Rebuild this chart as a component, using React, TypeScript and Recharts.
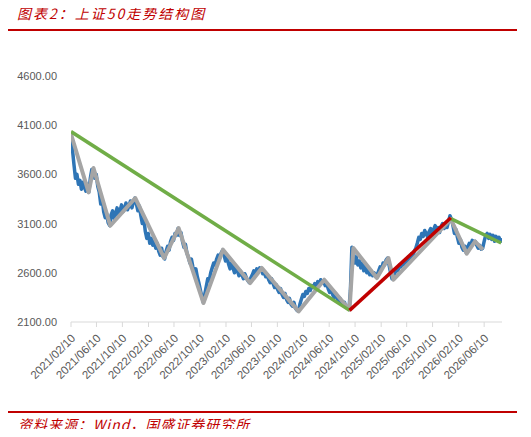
import { Line, LineChart, XAxis, YAxis } from 'recharts'

const TICK_DATES = [
  '2021/02/10', '2021/06/10', '2021/10/10', '2022/02/10', '2022/06/10', '2022/10/10',
  '2023/02/10', '2023/06/10', '2023/10/10', '2024/02/10', '2024/06/10', '2024/10/10',
  '2025/02/10', '2025/06/10', '2025/10/10', '2026/02/10', '2026/06/10',
]
const Y_TICKS = [2100, 2600, 3100, 3600, 4100, 4600]
const X_END = '2026/09/02'

// index level
const BLUE_START = '2021/02/10'
const BLUE_STEP_DAYS = 7
const BLUE_VALUES = [
  3990, 3850, 3700, 3560, 3600, 3500, 3540, 3450, 3520, 3470,
  3430, 3500, 3420, 3560, 3650, 3620, 3560, 3600, 3480, 3420,
  3300, 3350, 3220, 3160, 3200, 3110, 3080, 3190, 3230, 3150,
  3200, 3260, 3180, 3230, 3290, 3220, 3250, 3310, 3240, 3280,
  3330, 3260, 3320, 3360, 3300, 3230, 3280, 3180, 3100, 3150,
  3020, 2950, 3000, 2900, 2950, 2880, 2920, 2850, 2900, 2820,
  2780, 2850, 2760, 2740, 2820, 2870, 2830, 2920, 2960, 2930,
  3000, 2980, 3050, 2980, 3010, 2920, 2860, 2890, 2800, 2760,
  2700, 2740, 2660, 2600, 2640, 2560, 2500, 2430, 2360, 2300,
  2380, 2460, 2540, 2520, 2600, 2650, 2700, 2680, 2740, 2780,
  2750, 2800, 2830, 2780, 2720, 2760, 2690, 2640, 2700, 2650,
  2600, 2660, 2620, 2570, 2620, 2580, 2540, 2590, 2550, 2520,
  2500, 2550, 2580, 2620, 2590, 2640, 2610, 2650, 2640, 2590,
  2610, 2560, 2580, 2530, 2500, 2540, 2490, 2450, 2480, 2430,
  2400, 2440, 2380, 2350, 2390, 2330, 2300, 2340, 2280, 2260,
  2300, 2240, 2220, 2210, 2280, 2330, 2380, 2360, 2410, 2390,
  2440, 2420, 2470, 2450, 2490, 2460, 2510, 2480, 2530, 2500,
  2520, 2470, 2490, 2440, 2400, 2430, 2380, 2350, 2390, 2340,
  2310, 2340, 2290, 2270, 2300, 2250, 2240, 2230, 2420, 2860,
  2820, 2700, 2760, 2680, 2720, 2650, 2700, 2620, 2680, 2600,
  2640, 2580, 2620, 2570, 2600, 2560, 2580, 2620, 2660, 2640,
  2700, 2680, 2730, 2750, 2680, 2600, 2540, 2560, 2600, 2640,
  2620, 2680, 2660, 2700, 2680, 2730, 2700, 2760, 2740, 2790,
  2770, 2820, 2850, 2900, 2960, 2940, 3000, 2970, 3030, 3000,
  2960, 3020, 3050, 3000, 3040, 3080, 3030, 3060, 3010, 3070,
  3100, 3050, 3090, 3060, 3120, 3180, 3140, 3080, 3000, 3040,
  2960, 2900, 2940, 2860, 2830, 2870, 2800, 2860, 2900, 2880,
  2930, 2900, 2920, 2880, 2850, 2880, 2840, 2850, 2920, 2980,
  3000, 2950, 2990, 2940, 2980, 2920, 2970, 2930, 2960, 2920,
  2950,
]

// zigzag structure (gray)
const GRAY_DATES = [
  '2021/02/10', '2021/05/04', '2021/05/27', '2021/08/14', '2021/12/10', '2022/04/25',
  '2022/07/02', '2022/10/27', '2023/01/27', '2023/06/04', '2023/07/29', '2024/01/18',
  '2024/05/18', '2024/09/14', '2024/10/02', '2025/01/21', '2025/03/16', '2025/04/09',
  '2026/01/04', '2026/03/20', '2026/04/28', '2026/06/04',
]
const GRAY_VALUES = [
  4010, 3417, 3665, 3078, 3360, 2750,
  3055, 2293, 2835, 2496, 2649, 2208,
  2530, 2225, 2852, 2547, 2750, 2530,
  3146, 2794, 2919, 2835,
]

// trend lines
const GREEN_A_DATES = ['2021/02/10', '2024/09/14']
const GREEN_A_VALUES = [4035, 2218]
const RED_DATES = ['2024/09/14', '2026/01/04']
const RED_VALUES = [2218, 3160]
const GREEN_B_DATES = ['2026/01/04', '2026/08/29']
const GREEN_B_VALUES = [3150, 2903]

const RED = '#c00000'
const TEXT = '#595959'
const FONT = '"Liberation Sans", Arial, sans-serif'
const CJK = '"Noto Sans CJK SC", sans-serif'

const BASE = Date.UTC(2021, 1, 10)
function dayOf(s: string): number {
  const [y, m, d] = s.split('/').map(Number)
  return Math.round((Date.UTC(y, m - 1, d) - BASE) / 86400000)
}

const toPoints = (dates: string[], values: number[]) =>
  dates.map((d, i) => ({ t: dayOf(d), v: values[i] }))

const blueData = BLUE_VALUES.map((v, i) => ({ t: dayOf(BLUE_START) + i * BLUE_STEP_DAYS, v }))
const grayData = toPoints(GRAY_DATES, GRAY_VALUES)
const greenAData = toPoints(GREEN_A_DATES, GREEN_A_VALUES)
const redData = toPoints(RED_DATES, RED_VALUES)
const greenBData = toPoints(GREEN_B_DATES, GREEN_B_VALUES)

const tickDays = TICK_DATES.map(dayOf)

function XTick(props: any) {
  const { x, y, payload } = props
  const idx = tickDays.indexOf(payload.value)
  const label = idx >= 0 ? TICK_DATES[idx] : ''
  const tx = x + 5
  const ty = y + 10
  return (
    <text
      x={tx}
      y={ty}
      transform={`rotate(-45 ${tx} ${ty})`}
      textAnchor="end"
      fill={TEXT}
      fontSize={11.5}
      fontFamily={FONT}
    >
      {label}
    </text>
  )
}

export default function App() {
  return (
    <div style={{ position: 'relative', width: 531, height: 437, margin: -8, background: '#fff', overflow: 'hidden' }}>
      <div
        style={{
          position: 'absolute', left: 17, top: 4, fontFamily: CJK, fontStyle: 'italic',
          fontSize: 14, lineHeight: '18px', letterSpacing: 2, color: RED, whiteSpace: 'nowrap',
        }}
      >
        图表2：上证50走势结构图
      </div>
      <div style={{ position: 'absolute', left: 5, top: 29, width: 512, height: 2, background: RED }} />

      <div style={{ position: 'absolute', left: 0, top: 0 }}>
        <LineChart width={531} height={437} margin={{ top: 76, right: 29, left: 0, bottom: 0 }}>
          <XAxis
            dataKey="t"
            type="number"
            domain={[0, dayOf(X_END)]}
            ticks={tickDays}
            tick={<XTick />}
            height={115}
            interval={0}
            tickSize={5}
            axisLine={{ stroke: '#d9d9d9' }}
            tickLine={{ stroke: '#d9d9d9' }}
            allowDataOverflow
          />
          <YAxis
            type="number"
            domain={[2100, 4600]}
            ticks={Y_TICKS}
            width={71}
            axisLine={false}
            tickLine={false}
            tickMargin={8}
            tick={{ fill: TEXT, fontSize: 11, fontFamily: FONT }}
            tickFormatter={(v: number) => v.toFixed(2)}
          />
          <Line data={blueData} dataKey="v" type="linear" stroke="#2e75b6" strokeWidth={3.5}
            dot={false} isAnimationActive={false} strokeLinejoin="round" />
          <Line data={grayData} dataKey="v" type="linear" stroke="#a5a5a5" strokeWidth={4}
            dot={false} isAnimationActive={false} strokeLinejoin="round" />
          <Line data={greenAData} dataKey="v" type="linear" stroke="#70ad47" strokeWidth={3.5}
            dot={false} isAnimationActive={false} />
          <Line data={greenBData} dataKey="v" type="linear" stroke="#70ad47" strokeWidth={3.5}
            dot={false} isAnimationActive={false} />
          <Line data={redData} dataKey="v" type="linear" stroke={RED} strokeWidth={3.5}
            dot={false} isAnimationActive={false} />
        </LineChart>
      </div>

      <div style={{ position: 'absolute', left: 5, top: 411, width: 512, height: 2, background: RED }} />
      <div
        style={{
          position: 'absolute', left: 18, top: 416, fontFamily: CJK, fontStyle: 'italic',
          fontSize: 14, lineHeight: '16px', letterSpacing: 1, color: RED, whiteSpace: 'nowrap',
        }}
      >
        资料来源：Wind，国盛证券研究所
      </div>
    </div>
  )
}
